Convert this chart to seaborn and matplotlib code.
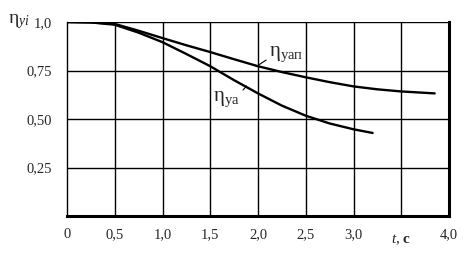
import numpy as np
import matplotlib
matplotlib.use("Agg")
import matplotlib.pyplot as plt
import pandas as pd
import seaborn as sns

# curve data
t_yap = [0, 0.25, 0.5, 0.75, 1.0, 1.25, 1.5, 1.75, 2.0, 2.25, 2.5, 2.75, 3.0, 3.25, 3.5, 3.85]
eta_yap = [1.0, 0.998, 0.99, 0.955, 0.917, 0.88, 0.845, 0.808, 0.772, 0.742, 0.715, 0.69, 0.668, 0.653, 0.642, 0.632]

t_ya = [0, 0.25, 0.5, 0.75, 1.0, 1.25, 1.5, 1.75, 2.0, 2.25, 2.5, 2.75, 3.0, 3.2]
eta_ya = [1.0, 0.998, 0.986, 0.945, 0.896, 0.835, 0.772, 0.70, 0.632, 0.569, 0.517, 0.477, 0.447, 0.428]

x_ticks = [0, 0.5, 1.0, 1.5, 2.0, 2.5, 3.0, 3.5, 4.0]
x_labels = ["0", "0,5", "1,0", "1,5", "2,0", "2,5", "3,0", "", "4,0"]
y_ticks = [0.25, 0.5, 0.75, 1.0]
y_labels = ["0,25", "0,50", "0,75", "1,0"]

df = pd.concat([
    pd.DataFrame({"t": t_yap, "eta": eta_yap, "curve": "yap"}),
    pd.DataFrame({"t": t_ya, "eta": eta_ya, "curve": "ya"}),
])

sns.set_style("white")
plt.rcParams["font.family"] = ["Liberation Serif", "DejaVu Serif"]
plt.rcParams["mathtext.fontset"] = "custom"
plt.rcParams["mathtext.rm"] = "Liberation Serif"
plt.rcParams["mathtext.it"] = "Liberation Serif:italic"
plt.rcParams["mathtext.bf"] = "Liberation Serif:bold"

fig = plt.figure(figsize=(4.75, 2.65), dpi=100)
ax = fig.add_axes([67 / 475, 1 - 216 / 265, 382 / 475, 194 / 265])

sns.lineplot(data=df, x="t", y="eta", hue="curve", palette={"yap": "black", "ya": "black"},
             linewidth=1.7, legend=False, ax=ax, sort=False)

ax.set_xlim(0, 4.0)
ax.set_ylim(0, 1.0)
ax.set_xticks(x_ticks)
ax.set_xticklabels(x_labels)
ax.set_yticks(y_ticks)
ax.set_yticklabels(y_labels)
ax.set_xlabel("")
ax.set_ylabel("")

for x in x_ticks[1:-1]:
    ax.axvline(x, color="black", lw=1, zorder=0)
for y in y_ticks:
    ax.axhline(y, color="black", lw=1, zorder=0)

ax.spines["top"].set_visible(False)
ax.spines["left"].set_linewidth(1)
ax.spines["bottom"].set_linewidth(2.2)
ax.spines["right"].set_linewidth(2.2)
for s in ax.spines.values():
    s.set_color("black")

ax.tick_params(axis="x", direction="out", length=4, width=1.5, labelsize=10.5, pad=5, color="black")
ax.tick_params(axis="y", direction="out", length=5, width=2, labelsize=10.5, pad=6, color="black")

ax.text(3.5, -0.085, r"$\mathit{t}$, $\mathbf{c}$", ha="center", va="top", fontsize=11,
        transform=ax.transData, clip_on=False)
fig.text(8 / 475, 1 - 22 / 265, r"$\mathrm{η}_{\mathit{yi}}$", ha="left", va="center", fontsize=14)

ax.annotate(r"$\mathrm{η}_{\mathrm{уап}}$", xy=(1.98, 0.77), xytext=(2.12, 0.835),
            fontsize=15, va="center", ha="left",
            arrowprops=dict(arrowstyle="-", color="black", lw=0.8, shrinkA=0, shrinkB=0,
                            relpos=(0, 0.3)))
ax.annotate(r"$\mathrm{η}_{\mathrm{уа}}$", xy=(1.88, 0.67), xytext=(1.53, 0.6),
            fontsize=15, va="center", ha="left",
            arrowprops=dict(arrowstyle="-", color="black", lw=0.8, shrinkA=0, shrinkB=0,
                            relpos=(1, 0.8)))

fig.savefig("out.png", dpi=100)
